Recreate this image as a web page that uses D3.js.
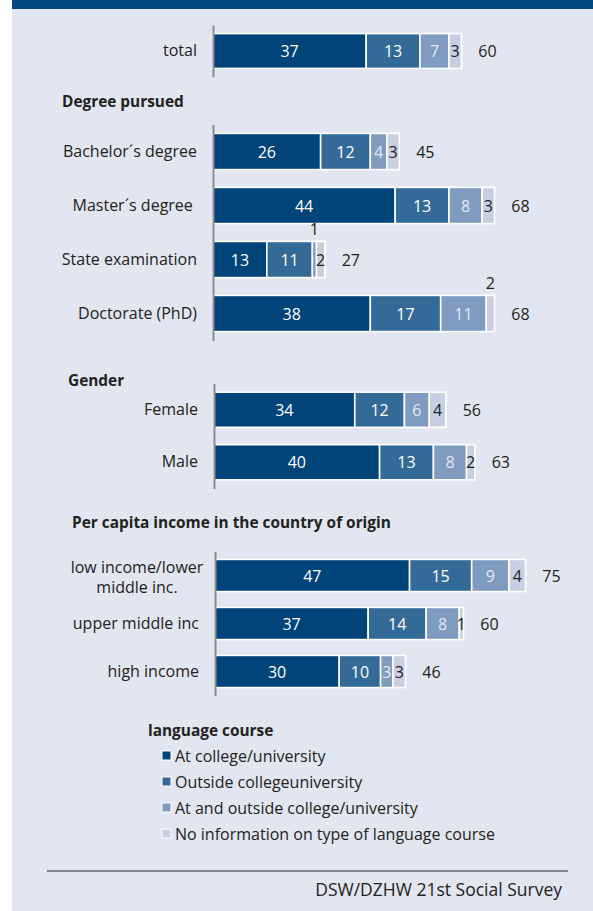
<!DOCTYPE html>
<html>
<head>
<meta charset="utf-8">
<script src="https://cdn.jsdelivr.net/npm/d3@7"></script>
<style>
  html, body { margin: 0; padding: 0; background: #ffffff; }
  svg { display: block; }
  text { font-family: "Open Sans", "Noto Sans", sans-serif; }
</style>
</head>
<body>
<svg id="chart" width="593" height="911"></svg>
<script>
// Language course attendance by group (percent)
const groupTitles = ["", "Degree pursued", "Gender", "Per capita income in the country of origin"];
const categories = [
  "total",
  "Bachelor´s degree", "Master´s degree ", "State examination", "Doctorate (PhD)",
  "Female", "Male",
  "low income/lower\nmiddle inc.", "upper middle inc", "high income"
];
const categoryGroup = [0, 1, 1, 1, 1, 2, 2, 3, 3, 3];
const atCollege      = [37, 26, 44, 13, 38, 34, 40, 47, 37, 30];
const outsideCollege = [13, 12, 13, 11, 17, 12, 13, 15, 14, 10];
const atAndOutside   = [ 7,  4,  8,  1, 11,  6,  8,  9,  8,  3];
const noInformation  = [ 3,  3,  3,  2,  2,  4,  2,  4,  1,  3];
const totals         = [60, 45, 68, 27, 68, 56, 63, 75, 60, 46];
const seriesNames = [
  "At college/university",
  "Outside collegeuniversity",
  "At and outside college/university",
  "No information on type of language course"
];
const legendTitle = "language course";
const sourceNote = "DSW/DZHW 21st Social Survey";
// segment labels that sit above the bar: [category, series index]
const labelsAbove = [["State examination", 2], ["Doctorate (PhD)", 3]];

const series = [atCollege, outsideCollege, atAndOutside, noInformation];
const colors = ["#01447a", "#336a98", "#7f9bc0", "#c6d0e2"];
const labelColors = ["#ffffff", "#ffffff", "#e3e8f1", "#222222"];

const svg = d3.select("#chart");

// panel background and top band
svg.append("rect").attr("x", 12).attr("y", 0).attr("width", 581).attr("height", 911).attr("fill", "#e1e6f0");
svg.append("rect").attr("x", 12).attr("y", 0).attr("width", 581).attr("height", 9).attr("fill", "#01467c");

// per-group layout: vertical extent and axis position
const groupLayout = [
  { y0: 25,    y1: 77,    x0: 213, titleX: 0,  titleY: 0 },
  { y0: 124.5, y1: 340.5, x0: 213, titleX: 62, titleY: 107 },
  { y0: 383.5, y1: 488.5, x0: 214, titleX: 68, titleY: 386 },
  { y0: 551.5, y1: 695.5, x0: 215, titleX: 72, titleY: 528 }
];

const x = d3.scaleLinear().domain([0, 100]).range([0, 414]);

const rows = categories.map((c, i) => {
  let cum = 0;
  const segs = series.map((s, k) => {
    const seg = { k, start: cum, value: s[i], cat: c };
    cum += s[i];
    return seg;
  });
  return { cat: c, group: categoryGroup[i], segs, total: totals[i] };
});

groupLayout.forEach((g, gi) => {
  const groupRows = rows.filter(r => r.group === gi);
  const y = d3.scaleBand()
    .domain(groupRows.map(r => r.cat))
    .range([g.y0, g.y1])
    .paddingInner(0.33)
    .paddingOuter(0.165);

  const gEl = svg.append("g").attr("transform", `translate(${g.x0},0)`);

  if (groupTitles[gi]) {
    svg.append("text")
      .attr("x", g.titleX).attr("y", g.titleY)
      .attr("font-size", 15.4).attr("font-weight", 700).attr("fill", "#222")
      .text(groupTitles[gi]);
  }

  // bars
  groupRows.forEach(r => {
    const row = gEl.append("g");
    row.selectAll("rect")
      .data(r.segs)
      .join("rect")
      .attr("x", d => x(d.start))
      .attr("y", y(r.cat))
      .attr("width", d => x(d.value))
      .attr("height", y.bandwidth())
      .attr("fill", d => colors[d.k])
      .attr("stroke", "#ffffff")
      .attr("stroke-width", 1.6);

    row.selectAll("text.seg")
      .data(r.segs)
      .join("text")
      .attr("class", "seg")
      .attr("text-anchor", "middle")
      .attr("font-size", 16)
      .attr("x", d => x(d.start + d.value / 2))
      .attr("y", d => {
        const above = labelsAbove.some(a => a[0] === d.cat && a[1] === d.k);
        return above ? y(r.cat) - 6 : y(r.cat) + y.bandwidth() / 2 + 6;
      })
      .attr("fill", d => {
        const above = labelsAbove.some(a => a[0] === d.cat && a[1] === d.k);
        return above ? "#222222" : labelColors[d.k];
      })
      .text(d => d.value);

    row.append("text")
      .attr("text-anchor", "middle")
      .attr("font-size", 16)
      .attr("fill", "#222")
      .attr("x", x(r.total) + 26)
      .attr("y", y(r.cat) + y.bandwidth() / 2 + 6)
      .text(r.total);
  });

  // category axis
  const axis = d3.axisLeft(y).tickSize(0).tickSizeOuter(0).tickPadding(16);
  const ax = gEl.append("g").call(axis);
  ax.select(".domain").attr("stroke", "#8c8c8c").attr("stroke-width", 2);
  ax.selectAll(".tick text")
    .attr("font-size", 16)
    .attr("fill", "#222")
    .style("white-space", "pre")
    .each(function(d) {
      const lines = d.split("\n");
      if (lines.length > 1) {
        const t = d3.select(this);
        t.text(null).attr("dy", null).attr("y", -3).attr("text-anchor", "middle");
        lines.forEach((ln, li) => {
          t.append("tspan")
            .attr("x", -78)
            .attr("dy", li === 0 ? 0 : 20)
            .text(ln);
        });
      }
    });
});

// legend
const legend = svg.append("g");
legend.append("text")
  .attr("x", 148).attr("y", 736)
  .attr("font-size", 15.4).attr("font-weight", 700).attr("fill", "#222")
  .text(legendTitle);
const items = legend.selectAll("g.item")
  .data(seriesNames)
  .join("g")
  .attr("class", "item")
  .attr("transform", (d, i) => `translate(0, ${756 + i * 26})`);
items.append("rect")
  .attr("x", 162).attr("y", -5).attr("width", 9).attr("height", 9)
  .attr("fill", (d, i) => colors[i])
  .attr("stroke", "#ffffff").attr("stroke-width", 1);
items.append("text")
  .attr("x", 175).attr("y", 6)
  .attr("font-size", 16).attr("fill", "#222")
  .text(d => d);

// source line
svg.append("line")
  .attr("x1", 47).attr("x2", 568).attr("y1", 871).attr("y2", 871)
  .attr("stroke", "#222").attr("stroke-width", 1);
svg.append("text")
  .attr("x", 562).attr("y", 896)
  .attr("text-anchor", "end")
  .attr("font-size", 17.5).attr("fill", "#222")
  .text(sourceNote);
</script>
</body>
</html>
